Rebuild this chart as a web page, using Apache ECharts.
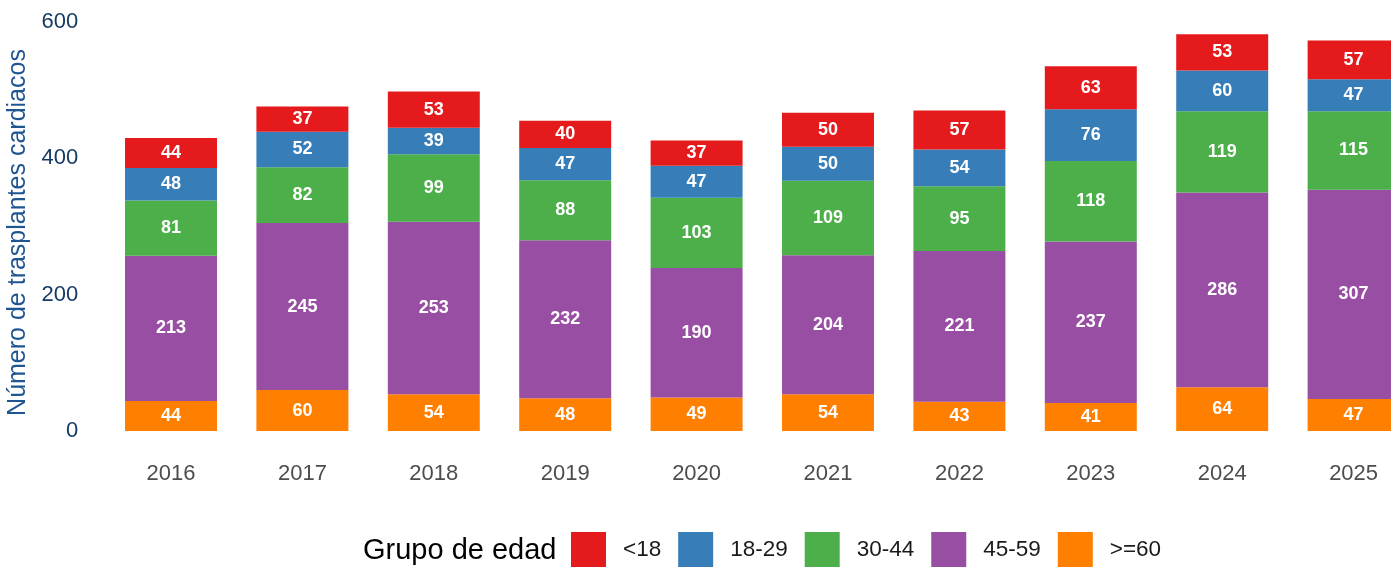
<!DOCTYPE html>
<html><head><meta charset="utf-8">
<script src="https://cdn.jsdelivr.net/npm/echarts@6/dist/echarts.min.js"></script>
<style>html,body{margin:0;padding:0;background:#fff}#c{width:1391px;height:567px}</style>
</head><body><div id="c"></div>
<script>
const years = ['2016','2017','2018','2019','2020','2021','2022','2023','2024','2025'];
const groups = ['<18','18-29','30-44','45-59','>=60'];
const colors = ['#e41a1c','#377eb8','#4daf4a','#984ea3','#ff7f00'];
const under18 = [44,37,53,40,37,50,57,63,53,57];
const g18_29 = [48,52,39,47,47,50,54,76,60,47];
const g30_44 = [81,82,99,88,103,109,95,118,119,115];
const g45_59 = [213,245,253,232,190,204,221,237,286,307];
const over60 = [44,60,54,48,49,54,43,41,64,47];
const yTicks = [0,200,400,600];

const valuesByGroup = {'<18':under18,'18-29':g18_29,'30-44':g30_44,'45-59':g45_59,'>=60':over60};
const stackOrder = ['>=60','45-59','30-44','18-29','<18'];
const font = 'Liberation Sans, Arial, sans-serif';

const series = stackOrder.map(g => ({
  name: g, type: 'bar', stack: 'total', barWidth: '70%',
  data: valuesByGroup[g],
  itemStyle: {color: colors[groups.indexOf(g)]},
  label: {show: true, position: 'inside', color: '#fff', fontWeight: 'bold', fontSize: 18, fontFamily: font},
  emphasis: {disabled: true}
}));

const chart = echarts.init(document.getElementById('c'));
chart.setOption({
  animation: false,
  grid: {left: 105.3, width: 1314, top: 22, bottom: 136, containLabel: false, outerBoundsMode: 'none'},
  xAxis: {
    type: 'category', data: years,
    axisLine: {show: false}, axisTick: {show: false},
    axisLabel: {color: '#4d4d4d', fontSize: 22, fontFamily: font, margin: 32}
  },
  yAxis: {
    type: 'value', min: 0, max: 600, interval: 200,
    splitLine: {show: false}, axisLine: {show: false}, axisTick: {show: false},
    axisLabel: {color: '#163a66', fontSize: 22, fontFamily: font, margin: 27,
      formatter: v => yTicks.includes(v) ? String(v) : ''},
    name: 'Número de trasplantes cardiacos', nameLocation: 'middle', nameGap: 67,
    nameTextStyle: {color: '#1f5591', fontSize: 25, fontFamily: font, padding: [0, 12, 0, 0]}
  },
  legend: {
    data: groups, left: 571, top: 532, orient: 'horizontal', padding: 0,
    itemWidth: 35, itemHeight: 35, itemGap: 17, icon: 'rect',
    textStyle: {color: '#1a1a1a', fontSize: 22.5, fontFamily: font, padding: [0,0,0,12]}
  },
  graphic: [{
    type: 'text', left: 363, top: 536,
    style: {text: 'Grupo de edad', fill: '#000', fontSize: 29, fontFamily: font}
  }],
  series: series
});
</script></body></html>
